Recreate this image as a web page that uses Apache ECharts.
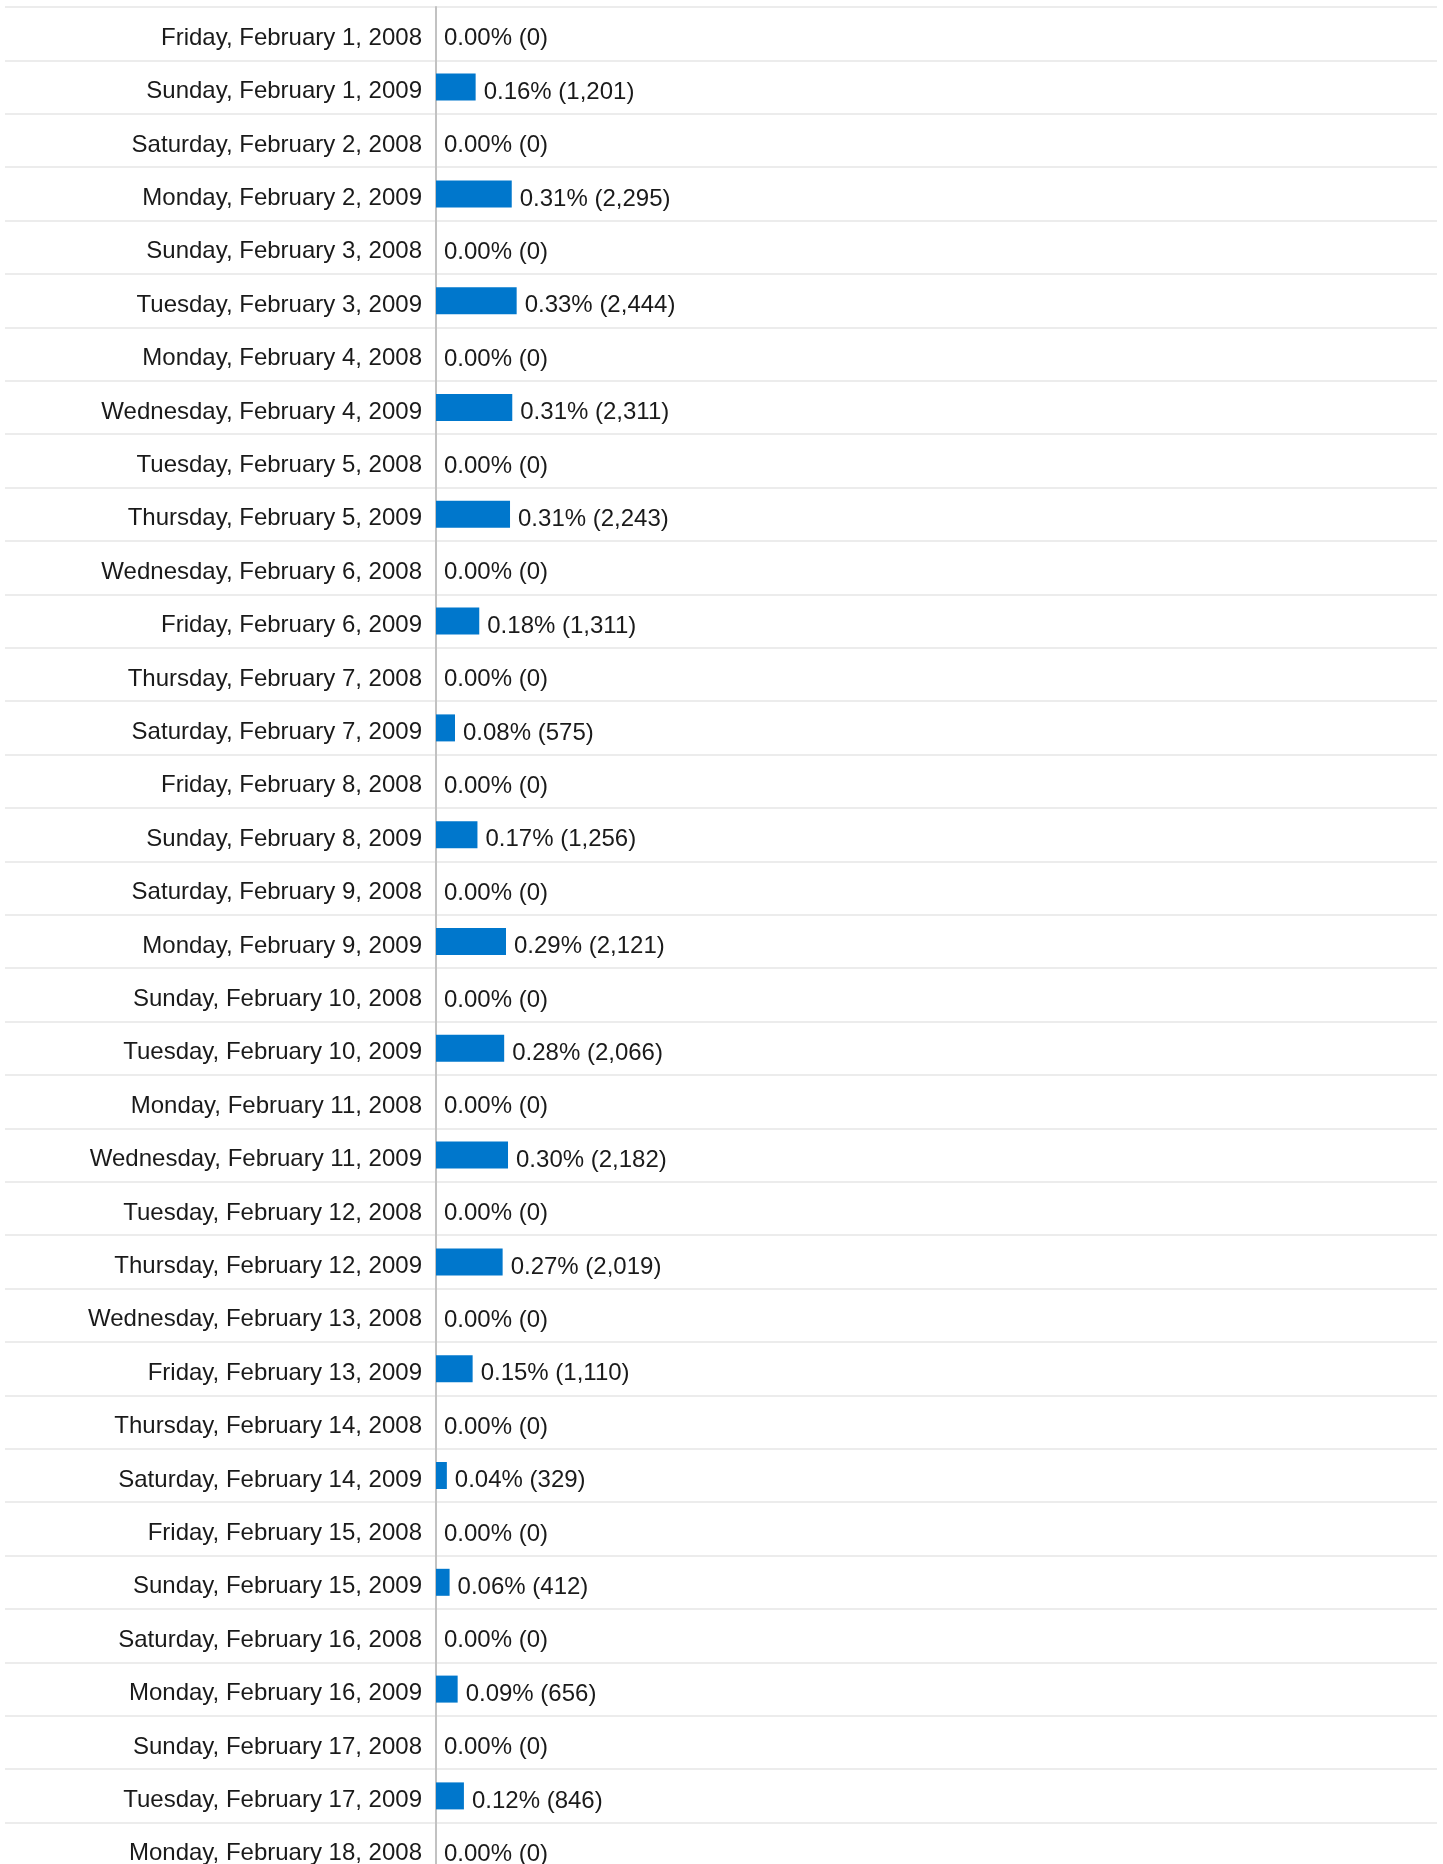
<!DOCTYPE html>
<html>
<head>
<meta charset="utf-8">
<script src="https://cdn.jsdelivr.net/npm/echarts@6/dist/echarts.min.js"></script>
<style>
html,body{margin:0;padding:0;background:#fff;overflow:hidden;}
#chart{width:1443px;height:1880px;}
</style>
</head>
<body>
<div id="chart"></div>
<script>
const categories = [
  "Friday, February 1, 2008", "Sunday, February 1, 2009",
  "Saturday, February 2, 2008", "Monday, February 2, 2009",
  "Sunday, February 3, 2008", "Tuesday, February 3, 2009",
  "Monday, February 4, 2008", "Wednesday, February 4, 2009",
  "Tuesday, February 5, 2008", "Thursday, February 5, 2009",
  "Wednesday, February 6, 2008", "Friday, February 6, 2009",
  "Thursday, February 7, 2008", "Saturday, February 7, 2009",
  "Friday, February 8, 2008", "Sunday, February 8, 2009",
  "Saturday, February 9, 2008", "Monday, February 9, 2009",
  "Sunday, February 10, 2008", "Tuesday, February 10, 2009",
  "Monday, February 11, 2008", "Wednesday, February 11, 2009",
  "Tuesday, February 12, 2008", "Thursday, February 12, 2009",
  "Wednesday, February 13, 2008", "Friday, February 13, 2009",
  "Thursday, February 14, 2008", "Saturday, February 14, 2009",
  "Friday, February 15, 2008", "Sunday, February 15, 2009",
  "Saturday, February 16, 2008", "Monday, February 16, 2009",
  "Sunday, February 17, 2008", "Tuesday, February 17, 2009",
  "Monday, February 18, 2008"
];
const counts = [
  0, 1201, 0, 2295, 0, 2444, 0, 2311, 0, 2243, 0, 1311, 0, 575, 0, 1256, 0, 2121,
  0, 2066, 0, 2182, 0, 2019, 0, 1110, 0, 329, 0, 412, 0, 656, 0, 846, 0
];
const percents = [
  "0.00%", "0.16%", "0.00%", "0.31%", "0.00%", "0.33%", "0.00%", "0.31%", "0.00%", "0.31%",
  "0.00%", "0.18%", "0.00%", "0.08%", "0.00%", "0.17%", "0.00%", "0.29%", "0.00%", "0.28%",
  "0.00%", "0.30%", "0.00%", "0.27%", "0.00%", "0.15%", "0.00%", "0.04%", "0.00%", "0.06%",
  "0.00%", "0.09%", "0.00%", "0.12%", "0.00%"
];

const chart = echarts.init(document.getElementById('chart'), null, {renderer: 'canvas'});
const FONT = 'Arial, "Liberation Sans", sans-serif';
chart.setOption({
  animation: false,
  backgroundColor: '#ffffff',
  grid: [
    {left: 5, right: 6, top: 7, height: 1869, containLabel: false, outerBoundsMode: 'none'},
    {left: 436, right: 6, top: 7, height: 1869, containLabel: false, outerBoundsMode: 'none'}
  ],
  xAxis: [
    {gridIndex: 0, type: 'value', min: 0, max: 1, show: false},
    {
      gridIndex: 1,
      type: 'value',
      min: 0,
      max: 30330,
      axisLine: {show: false},
      axisTick: {show: false},
      axisLabel: {show: false},
      splitLine: {show: false}
    }
  ],
  yAxis: [
    {
      gridIndex: 0,
      type: 'category',
      inverse: true,
      data: categories,
      axisLine: {show: false},
      axisTick: {show: false},
      axisLabel: {show: false},
      splitLine: {show: true, lineStyle: {color: '#ececec', width: 2}}
    },
    {
      gridIndex: 1,
      type: 'category',
      inverse: true,
      data: categories,
      axisLine: {show: true, onZero: false, lineStyle: {color: '#c2c2c2', width: 2}},
      axisTick: {show: false},
      axisLabel: {
        margin: 14,
        color: '#1a1a1a',
        fontFamily: FONT,
        fontSize: 24,
        verticalAlign: 'top',
        lineHeight: 9
      },
      splitLine: {show: false}
    }
  ],
  series: [{
    type: 'bar',
    xAxisIndex: 1,
    yAxisIndex: 1,
    data: counts,
    barWidth: 27,
    itemStyle: {color: '#0077cc'},
    label: {
      show: true,
      position: 'right',
      distance: 8,
      offset: [0, 5],
      color: '#1a1a1a',
      fontFamily: FONT,
      fontSize: 24,
      formatter: function (p) {
        return percents[p.dataIndex] + ' (' + counts[p.dataIndex].toLocaleString('en-US') + ')';
      }
    }
  }]
});
</script>
</body>
</html>
